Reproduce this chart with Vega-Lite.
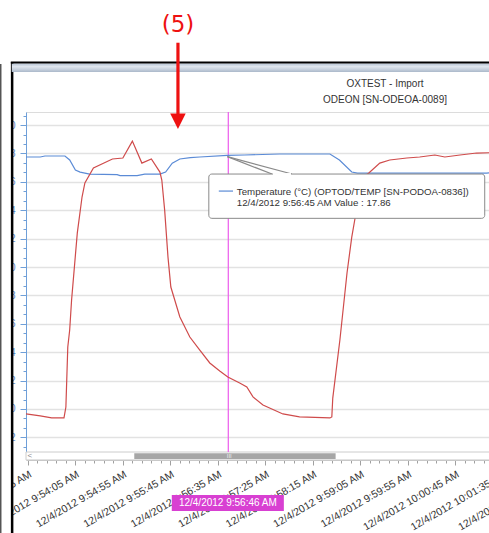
{
  "$schema": "https://vega.github.io/schema/vega-lite/v6.json",
  "width": 718,
  "height": 340,
  "autosize": {"type": "none"},
  "padding": {"left": 26, "top": 112, "right": -255, "bottom": 81},
  "background": "white",
  "config": {"view": {"stroke": "#dcdcdc"}, "font": "Liberation Sans"},
  "datasets": {
    "temp": [
      {"time": "2012-12-04T09:53:13Z", "value": 17.75},
      {"time": "2012-12-04T09:53:28Z", "value": 17.75},
      {"time": "2012-12-04T09:53:33Z", "value": 17.82},
      {"time": "2012-12-04T09:53:54Z", "value": 17.82},
      {"time": "2012-12-04T09:53:59Z", "value": 17.54},
      {"time": "2012-12-04T09:54:05Z", "value": 16.83},
      {"time": "2012-12-04T09:54:10Z", "value": 16.69},
      {"time": "2012-12-04T09:54:20Z", "value": 16.55},
      {"time": "2012-12-04T09:54:49Z", "value": 16.51},
      {"time": "2012-12-04T09:54:52Z", "value": 16.44},
      {"time": "2012-12-04T09:55:10Z", "value": 16.44},
      {"time": "2012-12-04T09:55:18Z", "value": 16.55},
      {"time": "2012-12-04T09:55:34Z", "value": 16.55},
      {"time": "2012-12-04T09:55:40Z", "value": 16.69},
      {"time": "2012-12-04T09:55:47Z", "value": 17.32},
      {"time": "2012-12-04T09:55:55Z", "value": 17.61},
      {"time": "2012-12-04T09:56:06Z", "value": 17.71},
      {"time": "2012-12-04T09:56:16Z", "value": 17.75},
      {"time": "2012-12-04T09:56:45Z", "value": 17.86},
      {"time": "2012-12-04T09:57:03Z", "value": 17.89},
      {"time": "2012-12-04T09:57:40Z", "value": 17.96},
      {"time": "2012-12-04T09:58:33Z", "value": 17.96},
      {"time": "2012-12-04T09:58:43Z", "value": 17.54},
      {"time": "2012-12-04T09:58:56Z", "value": 16.69},
      {"time": "2012-12-04T09:59:02Z", "value": 16.62},
      {"time": "2012-12-04T10:01:18Z", "value": 16.62},
      {"time": "2012-12-04T10:01:32Z", "value": 16.65}
    ],
    "oxy": [
      {"time": "2012-12-04T09:53:13Z", "value": -0.35},
      {"time": "2012-12-04T09:53:28Z", "value": -0.49},
      {"time": "2012-12-04T09:53:40Z", "value": -0.63},
      {"time": "2012-12-04T09:53:53Z", "value": -0.63},
      {"time": "2012-12-04T09:53:55Z", "value": 0.14},
      {"time": "2012-12-04T09:53:57Z", "value": 4.37},
      {"time": "2012-12-04T09:53:59Z", "value": 5.56},
      {"time": "2012-12-04T09:54:01Z", "value": 7.68},
      {"time": "2012-12-04T09:54:07Z", "value": 12.39},
      {"time": "2012-12-04T09:54:12Z", "value": 14.93},
      {"time": "2012-12-04T09:54:15Z", "value": 15.92},
      {"time": "2012-12-04T09:54:24Z", "value": 16.97},
      {"time": "2012-12-04T09:54:44Z", "value": 17.61},
      {"time": "2012-12-04T09:54:55Z", "value": 17.68},
      {"time": "2012-12-04T09:55:05Z", "value": 18.87},
      {"time": "2012-12-04T09:55:15Z", "value": 17.32},
      {"time": "2012-12-04T09:55:25Z", "value": 17.61},
      {"time": "2012-12-04T09:55:34Z", "value": 16.69},
      {"time": "2012-12-04T09:55:36Z", "value": 16.13},
      {"time": "2012-12-04T09:55:39Z", "value": 14.01},
      {"time": "2012-12-04T09:55:42.500Z", "value": 10.70},
      {"time": "2012-12-04T09:55:45.500Z", "value": 8.59},
      {"time": "2012-12-04T09:55:55Z", "value": 6.48},
      {"time": "2012-12-04T09:56:05.500Z", "value": 5.07},
      {"time": "2012-12-04T09:56:16Z", "value": 4.15},
      {"time": "2012-12-04T09:56:26.500Z", "value": 3.24},
      {"time": "2012-12-04T09:56:37Z", "value": 2.68},
      {"time": "2012-12-04T09:56:45.500Z", "value": 2.25},
      {"time": "2012-12-04T09:56:58Z", "value": 1.83},
      {"time": "2012-12-04T09:57:05.500Z", "value": 1.55},
      {"time": "2012-12-04T09:57:12Z", "value": 0.85},
      {"time": "2012-12-04T09:57:22.500Z", "value": 0.28},
      {"time": "2012-12-04T09:57:43.500Z", "value": -0.35},
      {"time": "2012-12-04T09:58:01Z", "value": -0.56},
      {"time": "2012-12-04T09:58:33Z", "value": -0.63},
      {"time": "2012-12-04T09:58:35Z", "value": -0.56},
      {"time": "2012-12-04T09:58:36Z", "value": 0.77},
      {"time": "2012-12-04T09:58:43.500Z", "value": 4.86},
      {"time": "2012-12-04T09:58:51Z", "value": 9.58},
      {"time": "2012-12-04T09:58:56Z", "value": 12.11},
      {"time": "2012-12-04T09:58:59.500Z", "value": 13.45},
      {"time": "2012-12-04T09:59:01.500Z", "value": 15.42},
      {"time": "2012-12-04T09:59:06.500Z", "value": 16.27},
      {"time": "2012-12-04T09:59:14Z", "value": 16.62},
      {"time": "2012-12-04T09:59:25.500Z", "value": 17.32},
      {"time": "2012-12-04T09:59:36Z", "value": 17.54},
      {"time": "2012-12-04T09:59:54Z", "value": 17.68},
      {"time": "2012-12-04T10:00:07.500Z", "value": 17.75},
      {"time": "2012-12-04T10:00:23.500Z", "value": 17.89},
      {"time": "2012-12-04T10:00:34Z", "value": 17.75},
      {"time": "2012-12-04T10:00:50Z", "value": 17.89},
      {"time": "2012-12-04T10:01:07.500Z", "value": 18.03},
      {"time": "2012-12-04T10:01:20.500Z", "value": 18.05},
      {"time": "2012-12-04T10:01:32Z", "value": 18.06}
    ]
  },
  "layer": [
    {
      "data": {"values": [{"time": "2012-12-04T09:53:13Z", "time2": "2012-12-04T10:05:49Z", "value": -3.03, "value2": -3.59}]},
      "mark": {"type": "rect", "fill": "white", "stroke": "#cccccc", "strokeWidth": 1, "clip": false},
      "encoding": {
        "x": {
          "field": "time", "type": "temporal",
          "scale": {"type": "utc", "domain": [1354614793000, 1354615549000]},
          "axis": {
            "values": [1354614795000,1354614805000,1354614815000,1354614825000,1354614835000,1354614845000,1354614855000,1354614865000,1354614875000,1354614885000,1354614895000,1354614905000,1354614915000,1354614925000,1354614935000,1354614945000,1354614955000,1354614965000,1354614975000,1354614985000,1354614995000,1354615005000,1354615015000,1354615025000,1354615035000,1354615045000,1354615055000,1354615065000,1354615075000,1354615085000,1354615095000,1354615105000,1354615115000,1354615125000,1354615135000,1354615145000,1354615155000,1354615165000,1354615175000,1354615185000,1354615195000,1354615205000,1354615215000,1354615225000,1354615235000,1354615245000,1354615255000,1354615265000,1354615275000,1354615285000,1354615295000,1354615305000,1354615315000,1354615325000,1354615335000,1354615345000,1354615355000,1354615365000,1354615375000,1354615385000,1354615395000],
            "tickCount": 500,
            "title": null,
            "offset": 8,
            "grid": false,
            "domainColor": "#c4c4c4",
            "tickColor": "#a0a0a0",
            "tickSize": {"condition": {"test": "(datum.value - 1354614795000) % 50000 == 0", "value": 5}, "value": 3},
            "labelAngle": -30,
            "labelAlign": "right",
            "labelBaseline": "top",
            "labelPadding": 4,
            "labelFlush": false,
            "labelOverlap": false,
            "labelBound": false,
            "labelFont": "Liberation Sans",
            "labelFontSize": 10.5,
            "labelColor": "#333333",
            "labelExpr": "(datum.value - 1354614795000) % 50000 == 0 ? utcFormat(datum.value, '%-m/%-d/%Y %-I:%M:%S %p') : ''"
          }
        },
        "x2": {"field": "time2"},
        "y": {
          "field": "value", "type": "quantitative",
          "scale": {"domain": [-3.03, 20.92], "nice": false, "zero": false},
          "axis": {
            "values": [-2.6667,-2,-1.3333,-0.6667,0,0.6667,1.3333,2,2.6667,3.3333,4,4.6667,5.3333,6,6.6667,7.3333,8,8.6667,9.3333,10,10.6667,11.3333,12,12.6667,13.3333,14,14.6667,15.3333,16,16.6667,17.3333,18,18.6667,19.3333,20,20.6667],
            "tickCount": 500,
            "title": null,
            "grid": true,
            "gridColor": "#e2e2e2",
            "gridWidth": 1.5,
            "gridOpacity": {"condition": {"test": "abs(datum.value - 2*round(datum.value/2)) < 0.01", "value": 1}, "value": 0},
            "domainColor": "#6f9fd8",
            "tickColor": "#6f9fd8",
            "tickSize": {"condition": {"test": "abs(datum.value - 2*round(datum.value/2)) < 0.01", "value": 6}, "value": 3},
            "labelPadding": 5,
            "labelOverlap": false,
            "labelFont": "Liberation Sans",
            "labelFontSize": 10,
            "labelColor": "#5b8ad0",
            "labelExpr": "abs(datum.value - 2*round(datum.value/2)) < 0.01 ? format(datum.value, 'd') : ''"
          }
        },
        "y2": {"field": "value2"}
      }
    },
    {
      "data": {"values": [{"time": "2012-12-04T09:55:07Z", "time2": "2012-12-04T09:58:39Z", "value": -3.12, "value2": -3.52}]},
      "mark": {"type": "rect", "fill": "#a6a6a6", "clip": false},
      "encoding": {
        "x": {"field": "time", "type": "temporal"}, "x2": {"field": "time2"},
        "y": {"field": "value", "type": "quantitative"}, "y2": {"field": "value2"}
      }
    },
    {
      "data": {"values": [{"time": "2012-12-04T09:56:47Z", "value": -3.31, "label": "III"}]},
      "mark": {"type": "text", "fontSize": 6, "color": "#ececec", "clip": false},
      "encoding": {
        "x": {"field": "time", "type": "temporal"},
        "y": {"field": "value", "type": "quantitative"},
        "text": {"field": "label"}
      }
    },
    {
      "data": {"values": [{"time": "2012-12-04T09:53:17Z", "value": -3.29, "label": "<"}]},
      "mark": {"type": "text", "fontSize": 8, "color": "#888888", "clip": false},
      "encoding": {
        "x": {"field": "time", "type": "temporal"},
        "y": {"field": "value", "type": "quantitative"},
        "text": {"field": "label"}
      }
    },
    {
      "data": {"values": [{"time": "2012-12-04T09:56:46Z", "value": 20.92, "value2": -3.03}]},
      "mark": {"type": "rule", "color": "#ec5cec", "strokeWidth": 1.2, "clip": false},
      "encoding": {
        "x": {"field": "time", "type": "temporal"},
        "y": {"field": "value", "type": "quantitative"}, "y2": {"field": "value2"}
      }
    },
    {
      "data": {"name": "temp"},
      "mark": {"type": "line", "color": "#5b8bd6", "strokeWidth": 1.2},
      "encoding": {
        "x": {"field": "time", "type": "temporal"},
        "y": {"field": "value", "type": "quantitative"}
      }
    },
    {
      "data": {"name": "oxy"},
      "mark": {"type": "line", "color": "#cf4b4b", "strokeWidth": 1.2},
      "encoding": {
        "x": {"field": "time", "type": "temporal"},
        "y": {"field": "value", "type": "quantitative"}
      }
    },
    {
      "data": {"values": [
        {"time": "2012-12-04T09:56:45Z", "time2": "2012-12-04T09:57:32Z", "value": 17.78, "value2": 16.55},
        {"time": "2012-12-04T09:56:45Z", "time2": "2012-12-04T09:57:53Z", "value": 17.78, "value2": 16.55}
      ]},
      "mark": {"type": "rule", "color": "#8a8a8a", "strokeWidth": 1.2, "clip": false},
      "encoding": {
        "x": {"field": "time", "type": "temporal"}, "x2": {"field": "time2"},
        "y": {"field": "value", "type": "quantitative"}, "y2": {"field": "value2"}
      }
    },
    {
      "data": {"values": [{"time": "2012-12-04T09:56:25.500Z", "time2": "2012-12-04T10:01:16Z", "value": 16.55, "value2": 13.43}]},
      "mark": {"type": "rect", "fill": "white", "stroke": "#8a8a8a", "strokeWidth": 1, "cornerRadius": 3, "clip": false},
      "encoding": {
        "x": {"field": "time", "type": "temporal"}, "x2": {"field": "time2"},
        "y": {"field": "value", "type": "quantitative"}, "y2": {"field": "value2"}
      }
    },
    {
      "data": {"values": [{"time": "2012-12-04T09:57:33Z", "time2": "2012-12-04T09:57:52Z", "value": 16.55}]},
      "mark": {"type": "rule", "color": "white", "strokeWidth": 2, "clip": false},
      "encoding": {
        "x": {"field": "time", "type": "temporal"}, "x2": {"field": "time2"},
        "y": {"field": "value", "type": "quantitative"}
      }
    },
    {
      "data": {"values": [{"time": "2012-12-04T09:56:36Z", "time2": "2012-12-04T09:56:51Z", "value": 15.35}]},
      "mark": {"type": "rule", "color": "#5b8bd6", "strokeWidth": 1.2, "clip": false},
      "encoding": {
        "x": {"field": "time", "type": "temporal"}, "x2": {"field": "time2"},
        "y": {"field": "value", "type": "quantitative"}
      }
    },
    {
      "data": {"values": [
        {"time": "2012-12-04T09:56:55Z", "value": 15.30, "label": "Temperature (°C) (OPTOD/TEMP [SN-PODOA-0836])"},
        {"time": "2012-12-04T09:56:55Z", "value": 14.53, "label": "12/4/2012 9:56:45 AM Value : 17.86"}
      ]},
      "mark": {"type": "text", "align": "left", "baseline": "middle", "font": "Liberation Sans", "fontSize": 9.7, "color": "#333333", "clip": false},
      "encoding": {
        "x": {"field": "time", "type": "temporal"},
        "y": {"field": "value", "type": "quantitative"},
        "text": {"field": "label"}
      }
    },
    {
      "data": {"values": [{"time": "2012-12-04T09:55:46.500Z", "time2": "2012-12-04T09:57:44.500Z", "value": -6.06, "value2": -7.18}]},
      "mark": {"type": "rect", "fill": "#d840d2", "clip": false},
      "encoding": {
        "x": {"field": "time", "type": "temporal"}, "x2": {"field": "time2"},
        "y": {"field": "value", "type": "quantitative"}, "y2": {"field": "value2"}
      }
    },
    {
      "data": {"values": [{"time": "2012-12-04T09:56:45.500Z", "value": -6.62, "label": "12/4/2012 9:56:46 AM"}]},
      "mark": {"type": "text", "align": "center", "baseline": "middle", "font": "Liberation Sans", "fontSize": 10, "color": "white", "clip": false},
      "encoding": {
        "x": {"field": "time", "type": "temporal"},
        "y": {"field": "value", "type": "quantitative"},
        "text": {"field": "label"}
      }
    },
    {
      "data": {"values": [{"time": "2012-12-04T09:52:40Z", "time2": "2012-12-04T09:52:57.200Z", "value": 25, "value2": -9}]},
      "mark": {"type": "rect", "fill": "white", "clip": false},
      "encoding": {
        "x": {"field": "time", "type": "temporal"}, "x2": {"field": "time2"},
        "y": {"field": "value", "type": "quantitative"}, "y2": {"field": "value2"}
      }
    },
    {
      "data": {"values": [{"time": "2012-12-04T09:52:58.400Z", "value": 24.44, "value2": -9}]},
      "mark": {"type": "rule", "color": "black", "strokeWidth": 2.5, "clip": false},
      "encoding": {
        "x": {"field": "time", "type": "temporal"},
        "y": {"field": "value", "type": "quantitative"}, "y2": {"field": "value2"}
      }
    },
    {
      "data": {"values": [{"time": "2012-12-04T09:52:46.400Z", "value": 24.3, "value2": -9}]},
      "mark": {"type": "rule", "color": "#555555", "strokeWidth": 1.5, "clip": false},
      "encoding": {
        "x": {"field": "time", "type": "temporal"},
        "y": {"field": "value", "type": "quantitative"}, "y2": {"field": "value2"}
      }
    },
    {
      "data": {"values": [{"time": "2012-12-04T09:52:58Z", "time2": "2012-12-04T10:05:49Z", "value": 24.33, "value2": 23.73}]},
      "mark": {"type": "rect", "clip": false, "color": {"gradient": "linear", "x1": 0, "y1": 0, "x2": 0, "y2": 1, "stops": [{"offset": 0, "color": "#b9c6d6"}, {"offset": 0.35, "color": "#e0e6ee"}, {"offset": 0.7, "color": "#c5cfdc"}, {"offset": 1, "color": "#a9b7c9"}]}},
      "encoding": {
        "x": {"field": "time", "type": "temporal"}, "x2": {"field": "time2"},
        "y": {"field": "value", "type": "quantitative"}, "y2": {"field": "value2"}
      }
    },
    {
      "data": {"values": [{"time": "2012-12-04T09:52:57Z", "time2": "2012-12-04T10:05:49Z", "value": 24.40}]},
      "mark": {"type": "rule", "color": "black", "strokeWidth": 2, "clip": false},
      "encoding": {
        "x": {"field": "time", "type": "temporal"}, "x2": {"field": "time2"},
        "y": {"field": "value", "type": "quantitative"}
      }
    },
    {
      "data": {"values": [
        {"time": "2012-12-04T09:59:31Z", "value": 22.89, "label": "OXTEST - Import"},
        {"time": "2012-12-04T09:59:31Z", "value": 21.76, "label": "ODEON [SN-ODEOA-0089]"}
      ]},
      "mark": {"type": "text", "align": "center", "baseline": "middle", "font": "Liberation Sans", "fontSize": 10, "color": "#333333", "clip": false},
      "encoding": {
        "x": {"field": "time", "type": "temporal"},
        "y": {"field": "value", "type": "quantitative"},
        "text": {"field": "label"}
      }
    },
    {
      "data": {"values": [{"time": "2012-12-04T09:55:53Z", "value": 27.04, "label": "(5)"}]},
      "mark": {"type": "text", "align": "center", "baseline": "middle", "font": "DejaVu Sans", "fontSize": 23, "color": "#ee1111", "clip": false},
      "encoding": {
        "x": {"field": "time", "type": "temporal"},
        "y": {"field": "value", "type": "quantitative"},
        "text": {"field": "label"}
      }
    },
    {
      "data": {"values": [{"time": "2012-12-04T09:55:53Z", "value": 25.8, "value2": 20.7}]},
      "mark": {"type": "rule", "color": "#ee1111", "strokeWidth": 3.2, "clip": false},
      "encoding": {
        "x": {"field": "time", "type": "temporal"},
        "y": {"field": "value", "type": "quantitative"}, "y2": {"field": "value2"}
      }
    },
    {
      "data": {"values": [{"time": "2012-12-04T09:55:53Z", "value": 20.26}]},
      "mark": {"type": "point", "shape": "M-1,-1L1,-1L0,1Z", "size": 240, "filled": true, "opacity": 1, "color": "#ee1111", "clip": false},
      "encoding": {
        "x": {"field": "time", "type": "temporal"},
        "y": {"field": "value", "type": "quantitative"}
      }
    }
  ]
}
